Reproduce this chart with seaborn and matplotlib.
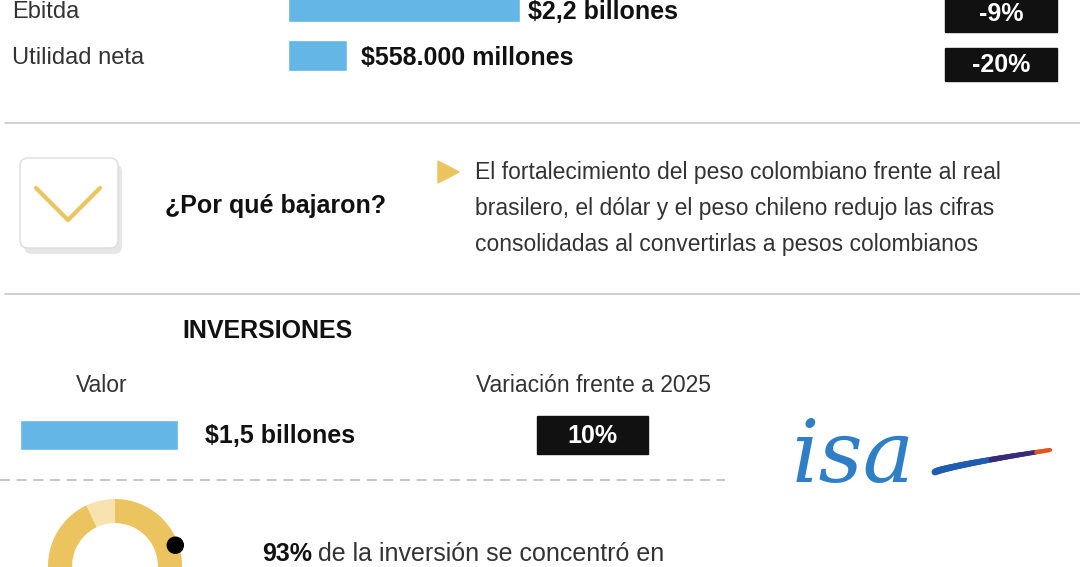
import matplotlib
matplotlib.use("Agg")
import matplotlib.pyplot as plt
import seaborn as sns
import numpy as np
from matplotlib.patches import FancyBboxPatch, Polygon

sns.set_theme(style="white")
plt.rcParams['font.family'] = ['Liberation Sans', 'DejaVu Sans']

# data
top_labels = ["Ebitda", "Utilidad neta"]
top_values = [2.2, 0.558]          # billones
top_texts = ["$2,2 billones", "$558.000 millones"]
top_var = ["-9%", "-20%"]
inv_label = ["Valor"]
inv_values = [1.5]
inv_text = "$1,5 billones"
inv_var = "10%"
donut_values = [93, 7]
reason_lines = ["El fortalecimiento del peso colombiano frente al real",
                "brasilero, el dólar y el peso chileno redujo las cifras",
                "consolidadas al convertirlas a pesos colombianos"]

W, H = 1080, 567
BLUE = "#63b6e6"
YEL = "#ebc35f"
LYEL = "#f8e3b0"
fig = plt.figure(figsize=(10.8, 5.67), dpi=100)

PX_PER_B = 105.5
def fx(x): return x / W
def fy(y): return 1 - y / H

sp = 49
ax1 = fig.add_axes([fx(288), fy(56 + sp / 2), 400 / W, 2 * sp / H])
sns.barplot(x=top_values, y=top_labels, orient="h", color=BLUE, saturation=1,
            width=31 / sp, ax=ax1)
ax1.set_xlim(0, 400 / PX_PER_B)
ax1.set_ylim(1.5, -0.5)
ax1.axis("off")

ax2 = fig.add_axes([fx(20), fy(435 + sp / 2), 300 / W, sp / H])
sns.barplot(x=inv_values, y=inv_label, orient="h", color=BLUE, saturation=1,
            width=30 / sp, ax=ax2)
ax2.set_xlim(0, 300 / PX_PER_B)
ax2.set_ylim(0.5, -0.5)
ax2.axis("off")

r = 67
ax3 = fig.add_axes([fx(115 - r), fy(566 + r), 2 * r / W, 2 * r / H])
ax3.pie(donut_values, colors=[YEL, LYEL], startangle=90, counterclock=False,
        radius=1, wedgeprops=dict(width=0.36, edgecolor="white", linewidth=0))
ax3.set_xlim(-1, 1); ax3.set_ylim(-1, 1)
ax3.set_aspect("auto")
ax3.add_patch(plt.Circle((0.9, 0.31), 0.12, color="black", zorder=5, clip_on=False))

ax = fig.add_axes([0, 0, 1, 1], zorder=-1)
ax.set_xlim(0, W); ax.set_ylim(H, 0); ax.axis("off")

fs = 18
for i, (lab, txt, var) in enumerate(zip(top_labels, top_texts, top_var)):
    yc = 7 + i * sp
    ax.text(12, yc + (5 if i == 0 else 2), lab, fontsize=17, va="center", color="#333")
    ax.text(288 + top_values[i] * PX_PER_B + (8 if i == 0 else 14), yc + (5 if i == 0 else 2),
            txt, fontsize=fs, va="center", fontweight="bold", color="#111")
    y0 = [-1, 48][i]
    ax.add_patch(plt.Rectangle((945, y0), 112, 33, color="#111"))
    ax.text(1001, y0 + 17 + (-2 if i == 0 else 0), var, fontsize=fs, color="white",
            fontweight="bold", ha="center", va="center")

ax.plot([5, 1080], [123, 123], color="#c8c8c8", lw=1.2)
ax.plot([5, 1080], [294, 294], color="#c8c8c8", lw=1.2)

ax.add_patch(FancyBboxPatch((24, 164), 98, 90, boxstyle="round,pad=0,rounding_size=8",
                            fc="#e6e6e6", ec="none"))
ax.add_patch(FancyBboxPatch((20, 158), 98, 90, boxstyle="round,pad=0,rounding_size=8",
                            fc="white", ec="#dddddd", lw=1))
ax.plot([36, 68, 100], [188, 220, 188], color=YEL, lw=3, solid_capstyle="round")
ax.text(165, 206, "¿Por qué bajaron?", fontsize=fs, fontweight="bold", va="center", color="#111")
ax.add_patch(Polygon([[438, 161], [438, 183], [459, 172]], color=YEL))
for i, line in enumerate(reason_lines):
    ax.text(475, 173 + i * 35.5, line, fontsize=16.5, va="center", color="#333")

ax.text(267, 331, "INVERSIONES", fontsize=fs, fontweight="bold", ha="center", va="center", color="#111")
ax.text(102, 386, "Valor", fontsize=16.5, ha="center", va="center", color="#333")
ax.text(593, 386, "Variación frente a 2025", fontsize=16.5, ha="center", va="center", color="#333")
ax.text(205, 436, inv_text, fontsize=fs, fontweight="bold", va="center", color="#111")
ax.add_patch(plt.Rectangle((537, 416), 111, 38, color="#111"))
ax.text(592, 436, inv_var, fontsize=fs, fontweight="bold", color="white", ha="center", va="center")
ax.plot([0, 725], [480, 480], color="#bbbbbb", lw=1.2, ls=(0, (6, 4)))

# isa logo
ax.text(792, 458, "isa", fontsize=62, fontstyle="italic", color="#2f7fc6",
        va="center", family="DejaVu Serif")
xs = np.linspace(935, 1050, 60)
ys = 472 - 22 * ((xs - 935) / 115) ** 0.8
for k in range(len(xs) - 1):
    t = k / (len(xs) - 2)
    c = "#1f5bb0" if t < 0.5 else ("#3a2a7a" if t < 0.88 else "#e8541e")
    ax.plot(xs[k:k + 2], ys[k:k + 2], color=c, lw=5 - 2 * t, solid_capstyle="round")

ax.text(262, 554, "93%", fontsize=fs, fontweight="bold", va="center", color="#111")
ax.text(318, 554, "de la inversión se concentró en", fontsize=fs, va="center", color="#333")

fig.savefig("out.png", dpi=100)
